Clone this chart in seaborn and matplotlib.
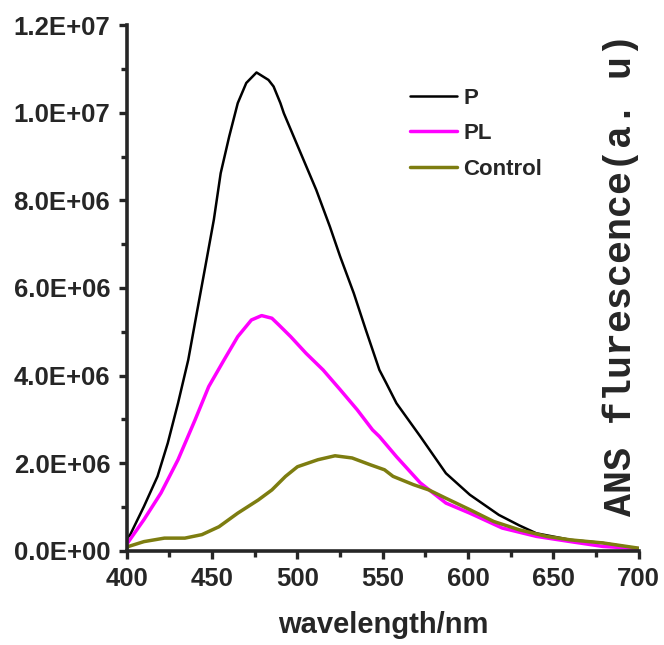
import numpy as np
import pandas as pd
import matplotlib
matplotlib.use('Agg')
import matplotlib.pyplot as plt
from matplotlib.ticker import MultipleLocator, FuncFormatter
import seaborn as sns

# values (wavelength in nm, intensity in a.u.)
p_wl = [400, 402, 410, 418, 424, 430, 436, 441, 446, 451, 455, 460, 465, 470, 476, 483,
        486, 490, 492, 501, 511, 519, 525, 533, 540, 548, 552, 558, 572, 587, 601, 618,
        630, 640, 660, 679, 700]
p_val = [0.28e6, 0.37e6, 1.01e6, 1.70e6, 2.46e6, 3.37e6, 4.36e6, 5.43e6, 6.49e6, 7.56e6,
         8.62e6, 9.46e6, 10.22e6, 10.68e6, 10.92e6, 10.75e6, 10.6e6, 10.22e6, 9.99e6, 9.16e6,
         8.24e6, 7.40e6, 6.72e6, 5.88e6, 5.05e6, 4.13e6, 3.83e6, 3.37e6, 2.61e6, 1.77e6,
         1.28e6, 0.82e6, 0.58e6, 0.40e6, 0.25e6, 0.18e6, 0.05e6]

pl_wl = [400, 401, 410, 420, 430, 440, 448, 457, 465, 473, 479, 485, 489, 496, 505, 515,
         525, 535, 544, 548, 558, 572, 587, 601, 620, 640, 660, 679, 700]
pl_val = [0.15e6, 0.21e6, 0.71e6, 1.32e6, 2.08e6, 2.99e6, 3.75e6, 4.36e6, 4.89e6, 5.27e6,
          5.37e6, 5.31e6, 5.16e6, 4.89e6, 4.51e6, 4.13e6, 3.68e6, 3.22e6, 2.76e6, 2.61e6,
          2.15e6, 1.55e6, 1.09e6, 0.86e6, 0.52e6, 0.33e6, 0.21e6, 0.10e6, 0.05e6]

ctrl_wl = [400, 401, 410, 422, 434, 444, 454, 465, 477, 485, 493, 500, 512, 522, 532,
           543, 551, 556, 568, 577, 587, 601, 615, 630, 646, 660, 679, 700]
ctrl_val = [0.06e6, 0.10e6, 0.21e6, 0.29e6, 0.29e6, 0.37e6, 0.55e6, 0.86e6, 1.16e6, 1.39e6,
            1.70e6, 1.92e6, 2.08e6, 2.17e6, 2.12e6, 1.96e6, 1.85e6, 1.70e6, 1.51e6, 1.39e6,
            1.20e6, 0.94e6, 0.67e6, 0.48e6, 0.33e6, 0.25e6, 0.18e6, 0.06e6]

labels = ['P', 'PL', 'Control']
colors = ['#000000', '#ff00ff', '#7d7d10']
widths = [1.8, 2.5, 2.5]

df = pd.concat([
    pd.DataFrame({'wl': p_wl, 'val': p_val, 'sample': 'P'}),
    pd.DataFrame({'wl': pl_wl, 'val': pl_val, 'sample': 'PL'}),
    pd.DataFrame({'wl': ctrl_wl, 'val': ctrl_val, 'sample': 'Control'}),
])

sns.set_style('ticks')
sans = ['Liberation Sans', 'DejaVu Sans']
plt.rcParams['font.family'] = sans
plt.rcParams['font.weight'] = 'bold'

fig = plt.figure(figsize=(6.64, 6.45), dpi=100)
ax = fig.add_axes([0.191, 0.146, 0.771, 0.815])

for lab, col, lw in zip(labels, colors, widths):
    sub = df[df['sample'] == lab]
    sns.lineplot(data=sub, x='wl', y='val', color=col, linewidth=lw, label=lab,
                 sort=False, ax=ax)

ax.set_xlim(400, 700)
ax.set_ylim(0, 1.2e7)
ax.xaxis.set_major_locator(MultipleLocator(50))
ax.xaxis.set_minor_locator(MultipleLocator(25))
ax.yaxis.set_major_locator(MultipleLocator(2e6))
ax.yaxis.set_minor_locator(MultipleLocator(1e6))
ax.yaxis.set_major_formatter(FuncFormatter(lambda v, pos: '%.1E' % v))

sns.despine(ax=ax)
for s in ['left', 'bottom']:
    ax.spines[s].set_linewidth(2.6)
ax.tick_params(which='major', direction='out', length=6, width=2.4, pad=6,
               labelsize=18.5)
ax.tick_params(which='minor', direction='out', length=4, width=2.4)
for t in ax.get_xticklabels() + ax.get_yticklabels():
    t.set_fontweight('bold')

ax.set_xlabel('wavelength/nm', fontsize=21, fontweight='bold', labelpad=14)
ax.set_ylabel('ANS flurescence(a. u)', fontsize=27.5, fontweight='bold',
              family=['Liberation Mono', 'DejaVu Sans Mono'], va='center', ha='center')
ax.yaxis.set_label_coords(0.965, 0.525)

leg = ax.legend(loc='upper left', bbox_to_anchor=(0.553, 0.881), frameon=False,
                borderpad=0, borderaxespad=0, handlelength=2.1, handletextpad=0.3,
                labelspacing=0.65, prop={'size': 16, 'weight': 'bold', 'family': sans})

fig.savefig('out.png', dpi=100)
